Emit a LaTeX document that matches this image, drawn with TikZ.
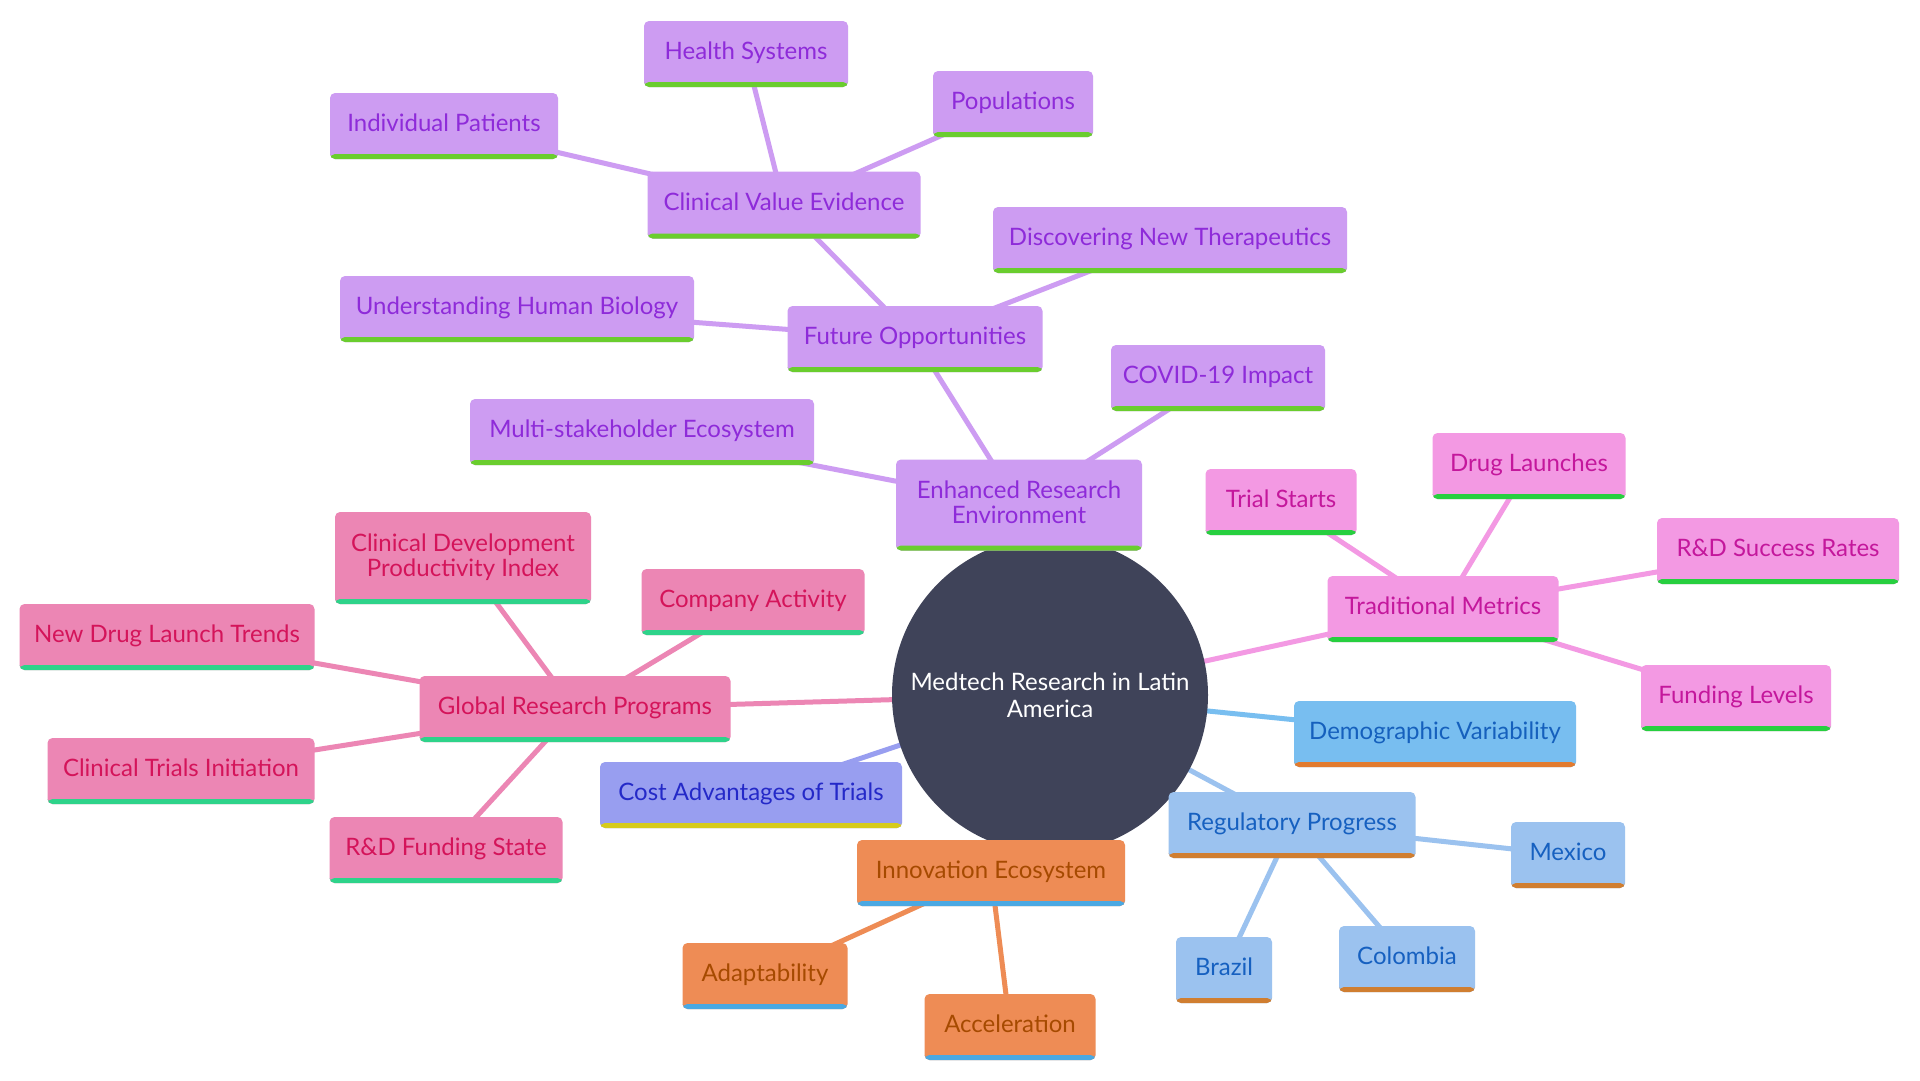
\documentclass[tikz,border=0pt]{standalone}
\usepackage{fontspec}
\setmainfont{Lato}
\definecolor{cfill}{HTML}{3F4359}
\definecolor{pFill}{HTML}{CD9CF2}\definecolor{pText}{HTML}{8E2BD9}\definecolor{pBar}{HTML}{6ACD2E}
\definecolor{mFill}{HTML}{F399E3}\definecolor{mText}{HTML}{C4179C}\definecolor{mBar}{HTML}{27CF3F}
\definecolor{rFill}{HTML}{EC86B4}\definecolor{rText}{HTML}{D4145A}\definecolor{rBar}{HTML}{2ED38A}
\definecolor{dFill}{HTML}{78BEF0}\definecolor{dText}{HTML}{1560BD}\definecolor{dBar}{HTML}{E27B2F}
\definecolor{gFill}{HTML}{9BC2EF}\definecolor{gText}{HTML}{1660C0}\definecolor{gBar}{HTML}{D07E30}
\definecolor{kFill}{HTML}{989EF0}\definecolor{kText}{HTML}{2429C8}\definecolor{kBar}{HTML}{D6CB1B}
\definecolor{oFill}{HTML}{EE8C55}\definecolor{oText}{HTML}{A64A00}\definecolor{oBar}{HTML}{4AA8E2}
\pgfdeclarelayer{bg}
\pgfsetlayers{bg,main}
\tikzset{
  mmbox/.style n args={3}{rectangle, rounded corners=5pt, inner sep=0pt, align=center,
    text height=16pt, text depth=6pt,
    fill=#1, text=#2,
    path picture={\fill[#3] ([yshift=5pt]path picture bounding box.south west) rectangle (path picture bounding box.south east);}},
  twoline/.style={text height=42pt, text depth=6pt},
  pbox/.style={mmbox={pFill}{pText}{pBar}},
  mbox/.style={mmbox={mFill}{mText}{mBar}},
  rbox/.style={mmbox={rFill}{rText}{rBar}},
  dbox/.style={mmbox={dFill}{dText}{dBar}},
  gbox/.style={mmbox={gFill}{gText}{gBar}},
  kbox/.style={mmbox={kFill}{kText}{kBar}},
  obox/.style={mmbox={oFill}{oText}{oBar}},
  link/.style={line width=5pt},
}
\begin{document}
\begin{tikzpicture}[x=1pt,y=-1pt,font=\fontsize{24}{25}\selectfont]
\useasboundingbox (0,0) rectangle (1920,1080);
\begin{pgfonlayer}{bg}
\fill[white] (0,0) rectangle (1920,1080);
\end{pgfonlayer}

\node[circle, fill=cfill, minimum size=316pt, inner sep=0pt, text=white, align=center,
  font=\fontsize{24}{27}\selectfont] (c) at (1050,695) {Medtech Research in Latin\\America};

% purple group
\node[pbox, minimum width=204pt, minimum height=66pt] (hs) at (746,54) {Health Systems};
\node[pbox, minimum width=160pt, minimum height=66pt] (pop) at (1013,104) {Populations};
\node[pbox, minimum width=228pt, minimum height=66pt] (ip) at (444,126) {Individual Patients};
\node[pbox, minimum width=273pt, minimum height=67pt] (cve) at (784,205) {Clinical Value Evidence};
\node[pbox, minimum width=354pt, minimum height=66pt] (dnt) at (1170,240) {Discovering New Therapeutics};
\node[pbox, minimum width=354pt, minimum height=66pt] (uhb) at (517,309) {Understanding Human Biology};
\node[pbox, minimum width=255pt, minimum height=66pt] (fo) at (915,339) {Future Opportunities};
\node[pbox, minimum width=214pt, minimum height=66pt] (cov) at (1218,378) {COVID-19 Impact};
\node[pbox, minimum width=344pt, minimum height=66pt] (mse) at (642,432) {Multi-stakeholder Ecosystem};
\node[pbox, twoline, minimum width=246pt, minimum height=91pt] (ere) at (1019,505) {Enhanced Research\\Environment};

% traditional metrics group
\node[mbox, minimum width=151pt, minimum height=66pt] (ts) at (1281,502) {Trial Starts};
\node[mbox, minimum width=193pt, minimum height=66pt] (dl) at (1529,466) {Drug Launches};
\node[mbox, minimum width=242pt, minimum height=66pt] (rds) at (1778,551) {R\&D Success Rates};
\node[mbox, minimum width=231pt, minimum height=66pt] (tm) at (1443,609) {Traditional Metrics};
\node[mbox, minimum width=190pt, minimum height=66pt] (fl) at (1736,698) {Funding Levels};

% global research programs group
\node[rbox, twoline, minimum width=256pt, minimum height=92pt] (cdpi) at (463,558) {Clinical Development\\Productivity Index};
\node[rbox, minimum width=223pt, minimum height=66pt] (ca) at (753,602) {Company Activity};
\node[rbox, minimum width=295pt, minimum height=66pt] (ndlt) at (167,637) {New Drug Launch Trends};
\node[rbox, minimum width=311pt, minimum height=66pt] (grp) at (575,709) {Global Research Programs};
\node[rbox, minimum width=267pt, minimum height=66pt] (cti) at (181,771) {Clinical Trials Initiation};
\node[rbox, minimum width=233pt, minimum height=66pt] (rdf) at (446,850) {R\&D Funding State};

% blue
\node[dbox, minimum width=282pt, minimum height=66pt] (dv) at (1435,734) {Demographic Variability};
\node[gbox, minimum width=247pt, minimum height=66pt] (rp) at (1292,825) {Regulatory Progress};
\node[gbox, minimum width=114pt, minimum height=66pt] (mx) at (1568,855) {Mexico};
\node[gbox, minimum width=96pt, minimum height=66pt] (br) at (1224,970) {Brazil};
\node[gbox, minimum width=136pt, minimum height=66pt] (co) at (1407,959) {Colombia};

% cost
\node[kbox, minimum width=302pt, minimum height=66pt] (cat) at (751,795) {Cost Advantages of Trials};

% orange
\node[obox, minimum width=268pt, minimum height=66pt] (ie) at (991,873) {Innovation Ecosystem};
\node[obox, minimum width=165pt, minimum height=66pt] (ad) at (765,976) {Adaptability};
\node[obox, minimum width=171pt, minimum height=66pt] (ac) at (1010,1027) {Acceleration};

\begin{pgfonlayer}{bg}
\draw[link, pFill] (c.center) -- (ere.center);
\draw[link, pFill] (ere.center) -- (mse.center);
\draw[link, pFill] (ere.center) -- (cov.center);
\draw[link, pFill] (ere.center) -- (fo.center);
\draw[link, pFill] (fo.center) -- (uhb.center);
\draw[link, pFill] (fo.center) -- (dnt.center);
\draw[link, pFill] (fo.center) -- (cve.center);
\draw[link, pFill] (cve.center) -- (ip.center);
\draw[link, pFill] (cve.center) -- (hs.center);
\draw[link, pFill] (cve.center) -- (pop.center);

\draw[link, mFill] (c.center) -- (tm.center);
\draw[link, mFill] (tm.center) -- (ts.center);
\draw[link, mFill] (tm.center) -- (dl.center);
\draw[link, mFill] (tm.center) -- (rds.center);
\draw[link, mFill] (tm.center) -- (fl.center);

\draw[link, rFill] (c.center) -- (grp.center);
\draw[link, rFill] (grp.center) -- (cdpi.center);
\draw[link, rFill] (grp.center) -- (ca.center);
\draw[link, rFill] (grp.center) -- (ndlt.center);
\draw[link, rFill] (grp.center) -- (cti.center);
\draw[link, rFill] (grp.center) -- (rdf.center);

\draw[link, dFill] (c.center) -- (dv.center);
\draw[link, gFill] (c.center) -- (rp.center);
\draw[link, gFill] (rp.center) -- (mx.center);
\draw[link, gFill] (rp.center) -- (br.center);
\draw[link, gFill] (rp.center) -- (co.center);

\draw[link, kFill] (c.center) -- (cat.center);

\draw[link, oFill] (c.center) -- (ie.center);
\draw[link, oFill] (ie.center) -- (ad.center);
\draw[link, oFill] (ie.center) -- (ac.center);
\end{pgfonlayer}
\end{tikzpicture}
\end{document}
